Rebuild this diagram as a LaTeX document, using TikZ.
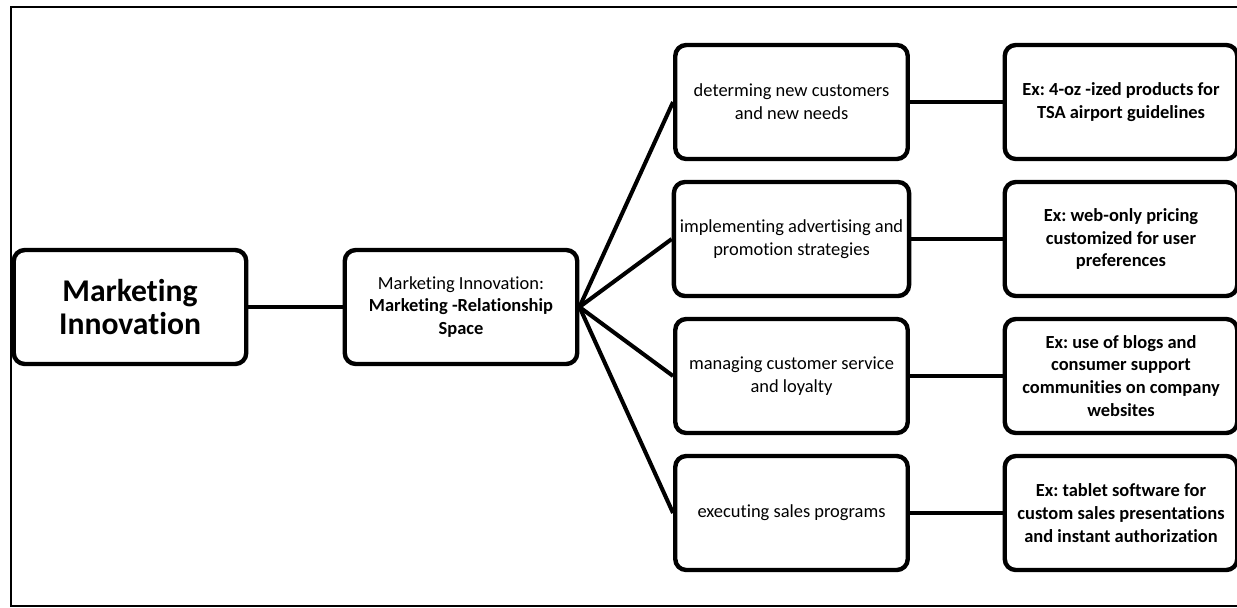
\documentclass[tikz,border=0pt]{standalone}
\usepackage{fontspec}
\setmainfont{Carlito}[Ligatures=NoCommon]
\usepackage{tikz}
\usetikzlibrary{positioning}
\frenchspacing

\begin{document}
\begin{tikzpicture}[
        box/.style={rectangle, rounded corners=0.22cm, draw=black, line width=2.5pt, minimum width=4.65cm, minimum height=2.28cm, align=center, font=\fontsize{10.5}{13}\selectfont},
        bigbox/.style={box, font=\fontsize{18}{18.5}\selectfont\bfseries},
        exbox/.style={box, font=\fontsize{10.5}{13}\selectfont\bfseries},
        link/.style={line width=2.3pt},
    ]
    \useasboundingbox (0,0) rectangle (24.74,-12.14);
    \draw[line width=0.6pt] (25.5,-0.14) -- (0.22,-0.14) -- (0.22,-12.12) -- (25.5,-12.12);

    % Left side
    \node[bigbox] (mi) at (2.6,-6.14) {Marketing\\Innovation};
    \node[box] (space) at (9.22,-6.14) {Marketing Innovation:\\\textbf{Marketing -Relationship}\\\textbf{Space}};

    % Middle column
    \node[box] (needs) at (15.83,-2.04) {determing new customers\\and new needs};
    \node[box] (promo) at (15.83,-4.78) {implementing advertising and\\promotion strategies};
    \node[box] (loyal) at (15.83,-7.52) {managing customer service\\and loyalty};
    \node[box] (sales) at (15.83,-10.26) {executing sales programs};

    % Right column (examples)
    \node[exbox] (ex1) at (22.42,-2.04) {Ex: 4-oz -ized products for\\TSA airport guidelines};
    \node[exbox] (ex2) at (22.42,-4.78) {Ex: web-only pricing\\customized for user\\preferences};
    \node[exbox] (ex3) at (22.42,-7.52) {Ex: use of blogs and\\consumer support\\communities on company\\websites};
    \node[exbox] (ex4) at (22.42,-10.26) {Ex: tablet software for\\custom sales presentations\\and instant authorization};

    \draw[link] (mi) -- (space);
    \foreach \n in {needs,promo,loyal,sales}
        \draw[link] (space.east) -- (\n.west);
    \draw[link] (needs) -- (ex1); \draw[link] (promo) -- (ex2);
    \draw[link] (loyal) -- (ex3); \draw[link] (sales) -- (ex4);
\end{tikzpicture}
\end{document}
